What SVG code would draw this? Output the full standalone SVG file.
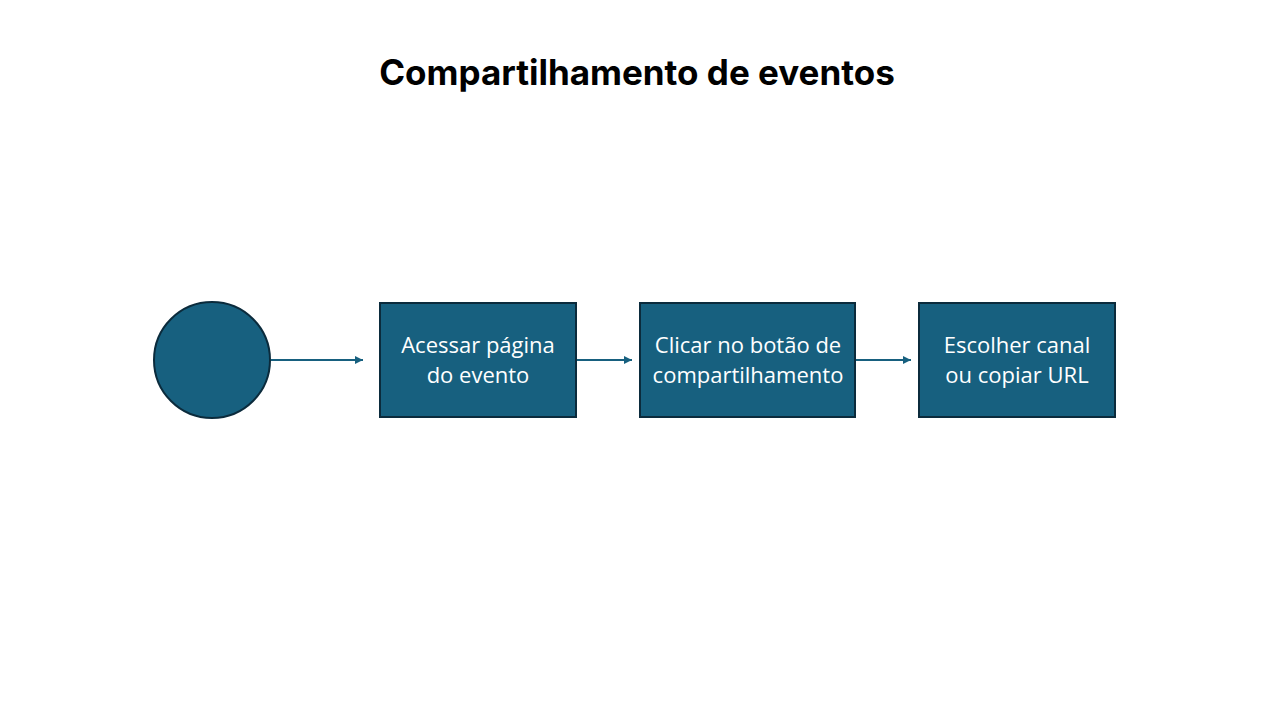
<svg xmlns="http://www.w3.org/2000/svg" width="1280" height="720" viewBox="0 0 1280 720">
<defs>
<style>
.node{fill:#17607f;stroke:#0b2b3c;stroke-width:2}
.lbl{font-family:"Open Sans","Liberation Sans",sans-serif;font-size:22px;fill:#ffffff;text-anchor:middle}
.title{font-family:Inter,"Liberation Sans",sans-serif;font-size:35px;font-weight:bold;fill:#000;text-anchor:middle}
.conn{stroke:#17607f;stroke-width:2;fill:none;marker-end:url(#ah)}
</style>
<marker id="ah" viewBox="0 0 10 10" refX="10" refY="5" markerWidth="4" markerHeight="4" orient="auto" markerUnits="strokeWidth">
<path d="M0,0 L10,5 L0,10 z" fill="#17607f"/>
</marker>
</defs>
<rect width="1280" height="720" fill="#ffffff"/>
<text class="title" x="637" y="85">Compartilhamento de eventos</text>
<g id="connectors">
<line class="conn" x1="271" y1="360" x2="363" y2="360"/>
<line class="conn" x1="577" y1="360" x2="632" y2="360"/>
<line class="conn" x1="856" y1="360" x2="911" y2="360"/>
</g>
<g id="start"><circle class="node" cx="212" cy="360" r="58"/></g>
<g id="n1"><rect class="node" x="380" y="303" width="196" height="114"/>
<text class="lbl" x="478" y="353">Acessar página</text><text class="lbl" x="478" y="383">do evento</text></g>
<g id="n2"><rect class="node" x="640" y="303" width="215" height="114"/>
<text class="lbl" x="748" y="353">Clicar no botão de</text><text class="lbl" x="748" y="383">compartilhamento</text></g>
<g id="n3"><rect class="node" x="919" y="303" width="196" height="114"/>
<text class="lbl" x="1017" y="353">Escolher canal</text><text class="lbl" x="1017" y="383">ou copiar URL</text></g>
</svg>
